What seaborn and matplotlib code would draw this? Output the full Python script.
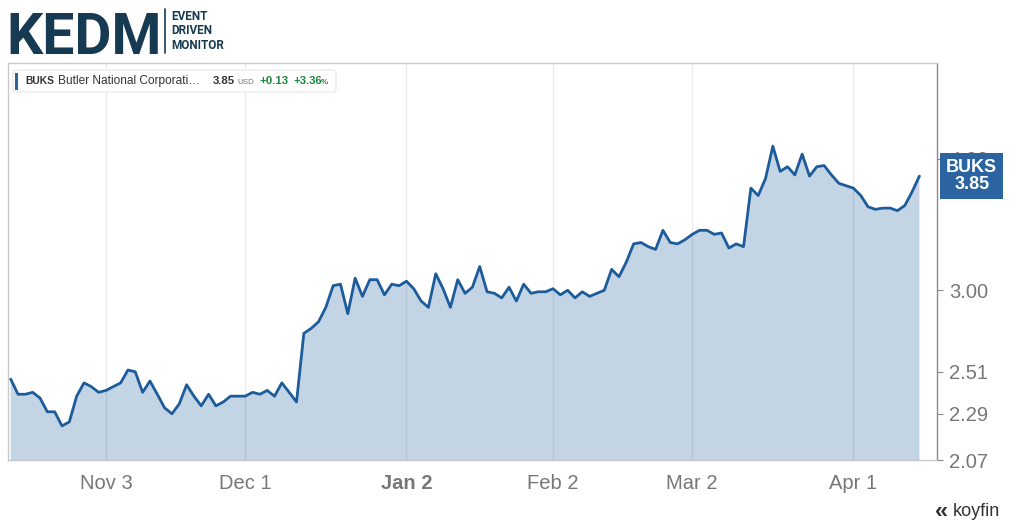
import numpy as np
import pandas as pd
import matplotlib
matplotlib.use("Agg")
import matplotlib.pyplot as plt
from matplotlib.patches import Rectangle, FancyBboxPatch
import seaborn as sns

# Daily closes of BUKS, one per US trading day from 2025-10-15
prices = [
    2.47, 2.39, 2.39, 2.40, 2.37, 2.30, 2.30, 2.23, 2.25, 2.38,
    2.45, 2.43, 2.40, 2.41, 2.43, 2.45, 2.52, 2.51, 2.40, 2.46,
    2.39, 2.32, 2.29, 2.34, 2.44, 2.38, 2.33, 2.39, 2.33, 2.35,
    2.38, 2.38, 2.38, 2.40, 2.39, 2.41, 2.38, 2.45, 2.40, 2.35,
    2.73, 2.76, 2.80, 2.89, 3.03, 3.04, 2.85, 3.08, 2.96, 3.07,
    3.07, 2.97, 3.04, 3.03, 3.06, 3.01, 2.93, 2.89, 3.11, 3.01,
    2.89, 3.07, 2.98, 3.02, 3.16, 2.99, 2.98, 2.95, 3.02, 2.93,
    3.04, 2.98, 2.99, 2.99, 3.01, 2.97, 3.00, 2.95, 2.99, 2.96,
    2.98, 3.00, 3.14, 3.09, 3.19, 3.32, 3.33, 3.30, 3.28, 3.42,
    3.33, 3.32, 3.35, 3.39, 3.42, 3.42, 3.39, 3.40, 3.29, 3.32,
    3.30, 3.75, 3.69, 3.83, 4.11, 3.89, 3.93, 3.86, 4.04, 3.85,
    3.93, 3.94, 3.86, 3.79, 3.77, 3.75, 3.69, 3.60, 3.58, 3.59,
    3.59, 3.57, 3.61, 3.72, 3.85,
]
start_date = "2025-10-15"
holidays = ["2025-11-27", "2025-12-25", "2026-01-01", "2026-01-19",
            "2026-02-16", "2026-04-03"]
tick_dates = ["2025-11-03", "2025-12-01", "2026-01-02", "2026-02-02",
              "2026-03-02", "2026-04-01"]
y_ticks = [2.07, 2.29, 2.51, 3.00, 4.00]
y_top = 4.93
ticker = "BUKS"
company = "Butler National Corporati\u2026"
change = "+0.13"
change_pct = "+3.36"

dates = pd.bdate_range(start=start_date, periods=len(prices), freq="C",
                       holidays=holidays)
df = pd.DataFrame({"date": dates, "close": prices})
df["pos"] = np.arange(len(df))

W, H = 1024, 529
def fx(x):
    return x / W
def fy(y):
    return 1 - y / H

sns.set_style("white")
plt.rcParams["font.family"] = ["Liberation Sans", "DejaVu Sans"]

line_col = "#1d5c9b"
fill_col = "#c3d4e4"

fig = plt.figure(figsize=(10.24, 5.29), dpi=100)
ax = fig.add_axes([fx(8), fy(460), fx(937) - fx(8), fy(63) - fy(460)])

ax.fill_between(df["pos"], df["close"], 1.0, color=fill_col, lw=0, zorder=1)
sns.lineplot(data=df, x="pos", y="close", ax=ax, color=line_col,
             linewidth=2.0, zorder=3)

ax.set_yscale("log")
ax.set_ylim(min(y_ticks), y_top)
ax.set_xlim(-0.37, 126.4)

# axes ticks
tick_pos = [int(np.where(dates == pd.Timestamp(d))[0][0]) for d in tick_dates]
ax.set_xticks(tick_pos)
ax.set_xticklabels([f"{pd.Timestamp(d):%b} {pd.Timestamp(d).day}" for d in tick_dates])
for lab, d in zip(ax.get_xticklabels(), tick_dates):
    if pd.Timestamp(d).month == 1:
        lab.set_fontweight("bold")
        lab.set_color("#555555")

ax.yaxis.tick_right()
ax.set_yticks(y_ticks)
ax.set_yticklabels([f"{v:.2f}" for v in y_ticks])
ax.yaxis.set_minor_locator(matplotlib.ticker.NullLocator())
ax.tick_params(axis="x", length=5, width=0.8, color="#999999",
               labelsize=14.5, labelcolor="#777777", pad=5)
ax.tick_params(axis="y", length=4, width=0.8, color="#888888",
               labelsize=14.5, labelcolor="#777777", pad=5)
ax.set_xlabel("")
ax.set_ylabel("")

ax.set_axisbelow("line")
ax.grid(axis="x", color="#000000", alpha=0.08, lw=1)
ax.grid(axis="y", visible=False)

for side in ["top", "left", "bottom"]:
    ax.spines[side].set_color("#c8c8c8")
    ax.spines[side].set_linewidth(1)
ax.spines["right"].set_color("#8a8a8a")
ax.spines["right"].set_linewidth(1)

# last price tag on the right axis (it hides the 4.00 label, as in the source)
ax.annotate(f"{ticker}\n{prices[-1]:.2f}", xy=(1, prices[-1]),
            xycoords=("axes fraction", "data"), xytext=(25, 0),
            textcoords="offset points", ha="center", va="center",
            fontsize=13, fontweight="bold", color="white", linespacing=1.05,
            bbox=dict(boxstyle="square,pad=0.32", fc="#2b64a0", ec="none"),
            annotation_clip=False, zorder=10)

# legend box at top left
fig.add_artist(FancyBboxPatch((fx(13), fy(92)), fx(336) - fx(13), fy(70) - fy(92),
                              boxstyle="round,pad=0,rounding_size=0.004",
                              transform=fig.transFigure, fc="white",
                              ec="#e6e6e6", lw=0.8, zorder=5))
fig.add_artist(Rectangle((fx(15), fy(90)), fx(17.5) - fx(15), fy(73) - fy(90),
                         transform=fig.transFigure, fc="#2b64a0", ec="none",
                         zorder=6))
ly = fy(81)
fig.text(fx(25), ly, ticker, fontsize=7.4, fontweight="bold", color="#333333",
         va="center", zorder=7)
fig.text(fx(58), ly, company, fontsize=8.6, color="#333333", va="center",
         zorder=7)
fig.text(fx(213), ly, f"{prices[-1]:.2f}", fontsize=8.2, fontweight="bold",
         color="#333333", va="center", zorder=7)
fig.text(fx(237), fy(82), "USD", fontsize=5.8, color="#777777", va="center",
         zorder=7)
fig.text(fx(260), ly, change, fontsize=8.2, fontweight="bold",
         color="#1a8a3a", va="center", zorder=7)
fig.text(fx(293), ly, change_pct, fontsize=8.2, fontweight="bold",
         color="#1a8a3a", va="center", zorder=7)
fig.text(fx(321), fy(82.5), "%", fontsize=5.8, fontweight="bold",
         color="#1a8a3a", va="center", zorder=7)

# KEDM logo
navy = "#163a52"
fig.text(fx(6), fy(54), "KEDM", fontsize=41, fontweight="bold", color=navy,
         family=["Roboto", "DejaVu Sans"], va="baseline")
fig.add_artist(plt.Line2D([fx(165), fx(165)], [fy(9), fy(53)], color=navy,
                          lw=1.2, transform=fig.transFigure))
for i, word in enumerate(["EVENT", "DRIVEN", "MONITOR"]):
    fig.text(fx(171), fy(16 + 15 * i), word, fontsize=8.5, fontweight="bold",
             color=navy, family=["Roboto", "DejaVu Sans"], va="center")

# koyfin mark
fig.text(fx(935), fy(511), "\u00ab", fontsize=17, color="#333333",
         va="center", fontweight="bold")
fig.text(fx(953), fy(511), "koyfin", fontsize=13, color="#333333",
         va="center")

fig.savefig("out.png", dpi=100)
